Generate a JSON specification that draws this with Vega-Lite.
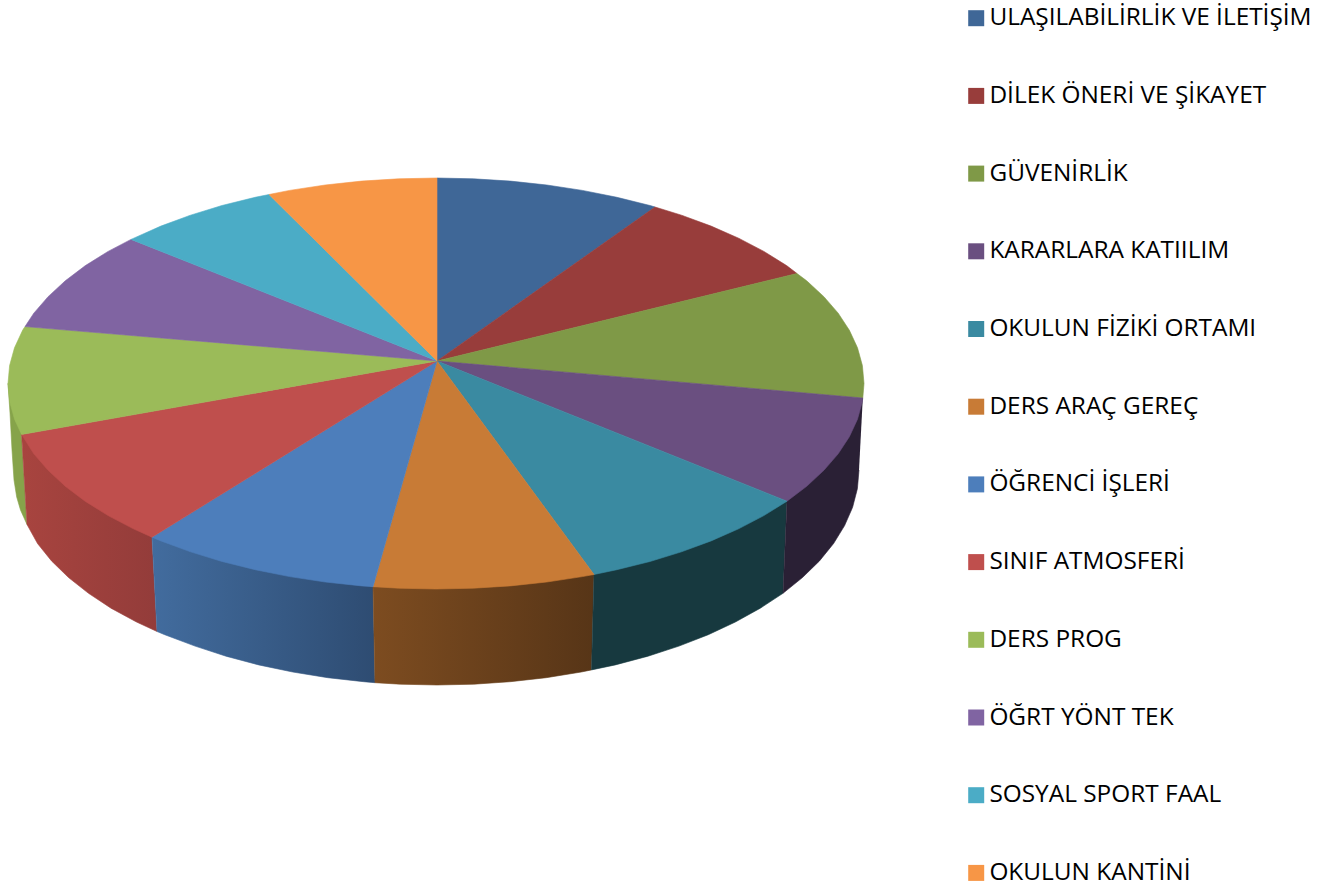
{"$schema":"https://vega.github.io/schema/vega-lite/v6.json","width":1324,"height":890,"padding":0,"autosize":{"type":"none"},"background":"white","config":{"view":{"stroke":null}},
"data":{"values":[
{"slice":"DERS PROG","part":"side","i":1,"x":21.6,"y":434.5},{"slice":"DERS PROG","part":"side","i":2,"x":8,"y":383.5},{"slice":"DERS PROG","part":"side","i":3,"x":10,"y":413},{"slice":"DERS PROG","part":"side","i":4,"x":12,"y":450},{"slice":"DERS PROG","part":"side","i":5,"x":14,"y":480},{"slice":"DERS PROG","part":"side","i":6,"x":16.7,"y":497},{"slice":"DERS PROG","part":"side","i":7,"x":20.5,"y":510},{"slice":"DERS PROG","part":"side","i":8,"x":27,"y":524.5},
{"slice":"SINIF ATMOSFERİ","part":"side","i":1,"x":152,"y":537.2},{"slice":"SINIF ATMOSFERİ","part":"side","i":2,"x":21.6,"y":434.5},{"slice":"SINIF ATMOSFERİ","part":"side","i":3,"x":27,"y":524.5},{"slice":"SINIF ATMOSFERİ","part":"side","i":4,"x":37.5,"y":543.5},{"slice":"SINIF ATMOSFERİ","part":"side","i":5,"x":51.5,"y":560.9},{"slice":"SINIF ATMOSFERİ","part":"side","i":6,"x":68.5,"y":577.5},{"slice":"SINIF ATMOSFERİ","part":"side","i":7,"x":88.5,"y":593.3},{"slice":"SINIF ATMOSFERİ","part":"side","i":8,"x":111,"y":608.2},{"slice":"SINIF ATMOSFERİ","part":"side","i":9,"x":136.5,"y":622},{"slice":"SINIF ATMOSFERİ","part":"side","i":10,"x":157,"y":631.5},
{"slice":"ÖĞRENCİ İŞLERİ","part":"side","i":1,"x":373,"y":586.7},{"slice":"ÖĞRENCİ İŞLERİ","part":"side","i":2,"x":152,"y":537.2},{"slice":"ÖĞRENCİ İŞLERİ","part":"side","i":3,"x":157,"y":631.5},{"slice":"ÖĞRENCİ İŞLERİ","part":"side","i":4,"x":164.7,"y":634.7},{"slice":"ÖĞRENCİ İŞLERİ","part":"side","i":5,"x":195,"y":646.1},{"slice":"ÖĞRENCİ İŞLERİ","part":"side","i":6,"x":226,"y":656.2},{"slice":"ÖĞRENCİ İŞLERİ","part":"side","i":7,"x":258.7,"y":664.9},{"slice":"ÖĞRENCİ İŞLERİ","part":"side","i":8,"x":292.7,"y":672},{"slice":"ÖĞRENCİ İŞLERİ","part":"side","i":9,"x":327.8,"y":677.7},{"slice":"ÖĞRENCİ İŞLERİ","part":"side","i":10,"x":363.7,"y":681.7},{"slice":"ÖĞRENCİ İŞLERİ","part":"side","i":11,"x":375,"y":682.7},
{"slice":"DERS ARAÇ GEREÇ","part":"side","i":1,"x":594,"y":574.5},{"slice":"DERS ARAÇ GEREÇ","part":"side","i":2,"x":373,"y":586.7},{"slice":"DERS ARAÇ GEREÇ","part":"side","i":3,"x":375,"y":682.7},{"slice":"DERS ARAÇ GEREÇ","part":"side","i":4,"x":400.2,"y":684.2},{"slice":"DERS ARAÇ GEREÇ","part":"side","i":5,"x":437,"y":685},{"slice":"DERS ARAÇ GEREÇ","part":"side","i":6,"x":473.8,"y":684.2},{"slice":"DERS ARAÇ GEREÇ","part":"side","i":7,"x":510.3,"y":681.7},{"slice":"DERS ARAÇ GEREÇ","part":"side","i":8,"x":546.2,"y":677.7},{"slice":"DERS ARAÇ GEREÇ","part":"side","i":9,"x":581.3,"y":672},{"slice":"DERS ARAÇ GEREÇ","part":"side","i":10,"x":591.5,"y":669.9},
{"slice":"OKULUN FİZİKİ ORTAMI","part":"side","i":1,"x":787,"y":501.2},{"slice":"OKULUN FİZİKİ ORTAMI","part":"side","i":2,"x":594,"y":574.5},{"slice":"OKULUN FİZİKİ ORTAMI","part":"side","i":3,"x":591.5,"y":669.9},{"slice":"OKULUN FİZİKİ ORTAMI","part":"side","i":4,"x":615.3,"y":664.9},{"slice":"OKULUN FİZİKİ ORTAMI","part":"side","i":5,"x":648,"y":656.2},{"slice":"OKULUN FİZİKİ ORTAMI","part":"side","i":6,"x":679,"y":646.1},{"slice":"OKULUN FİZİKİ ORTAMI","part":"side","i":7,"x":708.3,"y":634.7},{"slice":"OKULUN FİZİKİ ORTAMI","part":"side","i":8,"x":735.4,"y":622},{"slice":"OKULUN FİZİKİ ORTAMI","part":"side","i":9,"x":760.3,"y":608.2},{"slice":"OKULUN FİZİKİ ORTAMI","part":"side","i":10,"x":783,"y":593.3},
{"slice":"KARARLARA KATIILIM","part":"side","i":1,"x":862.8,"y":398},{"slice":"KARARLARA KATIILIM","part":"side","i":2,"x":787,"y":501.2},{"slice":"KARARLARA KATIILIM","part":"side","i":3,"x":783,"y":593.3},{"slice":"KARARLARA KATIILIM","part":"side","i":4,"x":802.5,"y":577.5},{"slice":"KARARLARA KATIILIM","part":"side","i":5,"x":819.5,"y":560.9},{"slice":"KARARLARA KATIILIM","part":"side","i":6,"x":833.6,"y":543.5},{"slice":"KARARLARA KATIILIM","part":"side","i":7,"x":844.6,"y":525.6},{"slice":"KARARLARA KATIILIM","part":"side","i":8,"x":852.6,"y":507.3},{"slice":"KARARLARA KATIILIM","part":"side","i":9,"x":857.4,"y":488.7},{"slice":"KARARLARA KATIILIM","part":"side","i":10,"x":859,"y":470},
{"slice":"ULAŞILABİLİRLİK VE İLETİŞİM","part":"top","i":1,"x":437,"y":361},{"slice":"ULAŞILABİLİRLİK VE İLETİŞİM","part":"top","i":2,"x":437,"y":178},{"slice":"ULAŞILABİLİRLİK VE İLETİŞİM","part":"top","i":3,"x":473.3,"y":178.8},{"slice":"ULAŞILABİLİRLİK VE İLETİŞİM","part":"top","i":4,"x":510.3,"y":181.1},{"slice":"ULAŞILABİLİRLİK VE İLETİŞİM","part":"top","i":5,"x":546.8,"y":185},{"slice":"ULAŞILABİLİRLİK VE İLETİŞİM","part":"top","i":6,"x":582.4,"y":190.4},{"slice":"ULAŞILABİLİRLİK VE İLETİŞİM","part":"top","i":7,"x":616.9,"y":197.3},{"slice":"ULAŞILABİLİRLİK VE İLETİŞİM","part":"top","i":8,"x":650,"y":205.5},{"slice":"ULAŞILABİLİRLİK VE İLETİŞİM","part":"top","i":9,"x":655,"y":207},{"slice":"ULAŞILABİLİRLİK VE İLETİŞİM","part":"top","i":10,"x":437,"y":361},
{"slice":"DİLEK ÖNERİ VE ŞİKAYET","part":"top","i":1,"x":437,"y":361},{"slice":"DİLEK ÖNERİ VE ŞİKAYET","part":"top","i":2,"x":655,"y":207},{"slice":"DİLEK ÖNERİ VE ŞİKAYET","part":"top","i":3,"x":681.5,"y":215.2},{"slice":"DİLEK ÖNERİ VE ŞİKAYET","part":"top","i":4,"x":711.1,"y":226.1},{"slice":"DİLEK ÖNERİ VE ŞİKAYET","part":"top","i":5,"x":738.6,"y":238.2},{"slice":"DİLEK ÖNERİ VE ŞİKAYET","part":"top","i":6,"x":763.9,"y":251.4},{"slice":"DİLEK ÖNERİ VE ŞİKAYET","part":"top","i":7,"x":786.6,"y":265.6},{"slice":"DİLEK ÖNERİ VE ŞİKAYET","part":"top","i":8,"x":797,"y":273.5},{"slice":"DİLEK ÖNERİ VE ŞİKAYET","part":"top","i":9,"x":437,"y":361},
{"slice":"GÜVENİRLİK","part":"top","i":1,"x":437,"y":361},{"slice":"GÜVENİRLİK","part":"top","i":2,"x":797,"y":273.5},{"slice":"GÜVENİRLİK","part":"top","i":3,"x":806.7,"y":280.8},{"slice":"GÜVENİRLİK","part":"top","i":4,"x":823.9,"y":296.7},{"slice":"GÜVENİRLİK","part":"top","i":5,"x":838.2,"y":313.2},{"slice":"GÜVENİRLİK","part":"top","i":6,"x":849.4,"y":330.3},{"slice":"GÜVENİRLİK","part":"top","i":7,"x":857.5,"y":347.8},{"slice":"GÜVENİRLİK","part":"top","i":8,"x":862.4,"y":365.6},{"slice":"GÜVENİRLİK","part":"top","i":9,"x":864,"y":383.5},{"slice":"GÜVENİRLİK","part":"top","i":10,"x":862.8,"y":398},{"slice":"GÜVENİRLİK","part":"top","i":11,"x":437,"y":361},
{"slice":"KARARLARA KATIILIM","part":"top","i":1,"x":437,"y":361},{"slice":"KARARLARA KATIILIM","part":"top","i":2,"x":862.8,"y":398},{"slice":"KARARLARA KATIILIM","part":"top","i":3,"x":862.4,"y":401.4},{"slice":"KARARLARA KATIILIM","part":"top","i":4,"x":857.5,"y":419.2},{"slice":"KARARLARA KATIILIM","part":"top","i":5,"x":849.4,"y":436.7},{"slice":"KARARLARA KATIILIM","part":"top","i":6,"x":838.2,"y":453.8},{"slice":"KARARLARA KATIILIM","part":"top","i":7,"x":823.9,"y":470.3},{"slice":"KARARLARA KATIILIM","part":"top","i":8,"x":806.7,"y":486.3},{"slice":"KARARLARA KATIILIM","part":"top","i":9,"x":787,"y":501.2},{"slice":"KARARLARA KATIILIM","part":"top","i":10,"x":437,"y":361},
{"slice":"OKULUN FİZİKİ ORTAMI","part":"top","i":1,"x":437,"y":361},{"slice":"OKULUN FİZİKİ ORTAMI","part":"top","i":2,"x":787,"y":501.2},{"slice":"OKULUN FİZİKİ ORTAMI","part":"top","i":3,"x":763.9,"y":515.6},{"slice":"OKULUN FİZİKİ ORTAMI","part":"top","i":4,"x":738.6,"y":528.8},{"slice":"OKULUN FİZİKİ ORTAMI","part":"top","i":5,"x":711.1,"y":540.9},{"slice":"OKULUN FİZİKİ ORTAMI","part":"top","i":6,"x":681.5,"y":551.8},{"slice":"OKULUN FİZİKİ ORTAMI","part":"top","i":7,"x":650,"y":561.5},{"slice":"OKULUN FİZİKİ ORTAMI","part":"top","i":8,"x":616.9,"y":569.7},{"slice":"OKULUN FİZİKİ ORTAMI","part":"top","i":9,"x":594,"y":574.5},{"slice":"OKULUN FİZİKİ ORTAMI","part":"top","i":10,"x":437,"y":361},
{"slice":"DERS ARAÇ GEREÇ","part":"top","i":1,"x":437,"y":361},{"slice":"DERS ARAÇ GEREÇ","part":"top","i":2,"x":594,"y":574.5},{"slice":"DERS ARAÇ GEREÇ","part":"top","i":3,"x":582.4,"y":576.6},{"slice":"DERS ARAÇ GEREÇ","part":"top","i":4,"x":546.8,"y":582},{"slice":"DERS ARAÇ GEREÇ","part":"top","i":5,"x":510.3,"y":585.9},{"slice":"DERS ARAÇ GEREÇ","part":"top","i":6,"x":473.3,"y":588.2},{"slice":"DERS ARAÇ GEREÇ","part":"top","i":7,"x":436,"y":589},{"slice":"DERS ARAÇ GEREÇ","part":"top","i":8,"x":398.7,"y":588.2},{"slice":"DERS ARAÇ GEREÇ","part":"top","i":9,"x":373,"y":586.7},{"slice":"DERS ARAÇ GEREÇ","part":"top","i":10,"x":437,"y":361},
{"slice":"ÖĞRENCİ İŞLERİ","part":"top","i":1,"x":437,"y":361},{"slice":"ÖĞRENCİ İŞLERİ","part":"top","i":2,"x":373,"y":586.7},{"slice":"ÖĞRENCİ İŞLERİ","part":"top","i":3,"x":361.7,"y":585.9},{"slice":"ÖĞRENCİ İŞLERİ","part":"top","i":4,"x":325.2,"y":582},{"slice":"ÖĞRENCİ İŞLERİ","part":"top","i":5,"x":289.6,"y":576.6},{"slice":"ÖĞRENCİ İŞLERİ","part":"top","i":6,"x":255.1,"y":569.7},{"slice":"ÖĞRENCİ İŞLERİ","part":"top","i":7,"x":222,"y":561.5},{"slice":"ÖĞRENCİ İŞLERİ","part":"top","i":8,"x":190.5,"y":551.8},{"slice":"ÖĞRENCİ İŞLERİ","part":"top","i":9,"x":160.9,"y":540.9},{"slice":"ÖĞRENCİ İŞLERİ","part":"top","i":10,"x":152,"y":537.2},{"slice":"ÖĞRENCİ İŞLERİ","part":"top","i":11,"x":437,"y":361},
{"slice":"SINIF ATMOSFERİ","part":"top","i":1,"x":437,"y":361},{"slice":"SINIF ATMOSFERİ","part":"top","i":2,"x":152,"y":537.2},{"slice":"SINIF ATMOSFERİ","part":"top","i":3,"x":133.4,"y":528.8},{"slice":"SINIF ATMOSFERİ","part":"top","i":4,"x":108.1,"y":515.6},{"slice":"SINIF ATMOSFERİ","part":"top","i":5,"x":85.4,"y":501.4},{"slice":"SINIF ATMOSFERİ","part":"top","i":6,"x":65.3,"y":486.3},{"slice":"SINIF ATMOSFERİ","part":"top","i":7,"x":48.1,"y":470.3},{"slice":"SINIF ATMOSFERİ","part":"top","i":8,"x":33.8,"y":453.8},{"slice":"SINIF ATMOSFERİ","part":"top","i":9,"x":21.6,"y":434.5},{"slice":"SINIF ATMOSFERİ","part":"top","i":10,"x":437,"y":361},
{"slice":"DERS PROG","part":"top","i":1,"x":437,"y":361},{"slice":"DERS PROG","part":"top","i":2,"x":21.6,"y":434.5},{"slice":"DERS PROG","part":"top","i":3,"x":14.5,"y":419.2},{"slice":"DERS PROG","part":"top","i":4,"x":9.6,"y":401.4},{"slice":"DERS PROG","part":"top","i":5,"x":8,"y":383.5},{"slice":"DERS PROG","part":"top","i":6,"x":9.6,"y":365.6},{"slice":"DERS PROG","part":"top","i":7,"x":14.5,"y":347.8},{"slice":"DERS PROG","part":"top","i":8,"x":22.6,"y":330.3},{"slice":"DERS PROG","part":"top","i":9,"x":25,"y":326.6},{"slice":"DERS PROG","part":"top","i":10,"x":437,"y":361},
{"slice":"ÖĞRT YÖNT TEK","part":"top","i":1,"x":437,"y":361},{"slice":"ÖĞRT YÖNT TEK","part":"top","i":2,"x":25,"y":326.6},{"slice":"ÖĞRT YÖNT TEK","part":"top","i":3,"x":33.8,"y":313.2},{"slice":"ÖĞRT YÖNT TEK","part":"top","i":4,"x":48.1,"y":296.7},{"slice":"ÖĞRT YÖNT TEK","part":"top","i":5,"x":65.3,"y":280.8},{"slice":"ÖĞRT YÖNT TEK","part":"top","i":6,"x":85.4,"y":265.6},{"slice":"ÖĞRT YÖNT TEK","part":"top","i":7,"x":108.1,"y":251.4},{"slice":"ÖĞRT YÖNT TEK","part":"top","i":8,"x":131,"y":239.4},{"slice":"ÖĞRT YÖNT TEK","part":"top","i":9,"x":437,"y":361},
{"slice":"SOSYAL SPORT FAAL","part":"top","i":1,"x":437,"y":361},{"slice":"SOSYAL SPORT FAAL","part":"top","i":2,"x":131,"y":239.4},{"slice":"SOSYAL SPORT FAAL","part":"top","i":3,"x":160.9,"y":226.1},{"slice":"SOSYAL SPORT FAAL","part":"top","i":4,"x":190.5,"y":215.2},{"slice":"SOSYAL SPORT FAAL","part":"top","i":5,"x":222,"y":205.5},{"slice":"SOSYAL SPORT FAAL","part":"top","i":6,"x":255.1,"y":197.3},{"slice":"SOSYAL SPORT FAAL","part":"top","i":7,"x":269,"y":194.5},{"slice":"SOSYAL SPORT FAAL","part":"top","i":8,"x":437,"y":361},
{"slice":"OKULUN KANTİNİ","part":"top","i":1,"x":437,"y":361},{"slice":"OKULUN KANTİNİ","part":"top","i":2,"x":269,"y":194.5},{"slice":"OKULUN KANTİNİ","part":"top","i":3,"x":289.6,"y":190.4},{"slice":"OKULUN KANTİNİ","part":"top","i":4,"x":325.2,"y":185},{"slice":"OKULUN KANTİNİ","part":"top","i":5,"x":361.7,"y":181.1},{"slice":"OKULUN KANTİNİ","part":"top","i":6,"x":398.7,"y":178.8},{"slice":"OKULUN KANTİNİ","part":"top","i":7,"x":437,"y":178},{"slice":"OKULUN KANTİNİ","part":"top","i":8,"x":437,"y":361}
]},
"encoding":{
"x":{"field":"x","type":"quantitative","scale":{"domain":[0,1324],"nice":false,"zero":false},"axis":null},
"y":{"field":"y","type":"quantitative","scale":{"domain":[890,0],"nice":false,"zero":false},"axis":null},
"order":{"field":"i","type":"quantitative"}},
"layer":[
{"transform":[{"filter":{"and":[{"field":"part","equal":"side"},{"field":"slice","equal":"DERS PROG"}]}}],"mark":{"type":"line","filled":true,"color":"#86a34a","stroke":"#86a34a","strokeWidth":0.6}},
{"transform":[{"filter":{"and":[{"field":"part","equal":"side"},{"field":"slice","equal":"SINIF ATMOSFERİ"}]}}],"mark":{"type":"line","filled":true,"strokeWidth":0.6,"color":{"gradient":"linear","x1":0,"y1":0,"x2":1,"y2":0,"stops":[{"offset":0,"color":"#a8443f"},{"offset":1,"color":"#933c3a"}]},"stroke":{"gradient":"linear","x1":0,"y1":0,"x2":1,"y2":0,"stops":[{"offset":0,"color":"#a8443f"},{"offset":1,"color":"#933c3a"}]}}},
{"transform":[{"filter":{"and":[{"field":"part","equal":"side"},{"field":"slice","equal":"ÖĞRENCİ İŞLERİ"}]}}],"mark":{"type":"line","filled":true,"strokeWidth":0.6,"color":{"gradient":"linear","x1":0,"y1":0,"x2":1,"y2":0,"stops":[{"offset":0,"color":"#426c9e"},{"offset":1,"color":"#2e4c72"}]},"stroke":{"gradient":"linear","x1":0,"y1":0,"x2":1,"y2":0,"stops":[{"offset":0,"color":"#426c9e"},{"offset":1,"color":"#2e4c72"}]}}},
{"transform":[{"filter":{"and":[{"field":"part","equal":"side"},{"field":"slice","equal":"DERS ARAÇ GEREÇ"}]}}],"mark":{"type":"line","filled":true,"strokeWidth":0.6,"color":{"gradient":"linear","x1":0,"y1":0,"x2":1,"y2":0,"stops":[{"offset":0,"color":"#7d4c20"},{"offset":1,"color":"#573517"}]},"stroke":{"gradient":"linear","x1":0,"y1":0,"x2":1,"y2":0,"stops":[{"offset":0,"color":"#7d4c20"},{"offset":1,"color":"#573517"}]}}},
{"transform":[{"filter":{"and":[{"field":"part","equal":"side"},{"field":"slice","equal":"OKULUN FİZİKİ ORTAMI"}]}}],"mark":{"type":"line","filled":true,"color":"#17393f","stroke":"#17393f","strokeWidth":0.6}},
{"transform":[{"filter":{"and":[{"field":"part","equal":"side"},{"field":"slice","equal":"KARARLARA KATIILIM"}]}}],"mark":{"type":"line","filled":true,"color":"#2a2035","stroke":"#2a2035","strokeWidth":0.6}},
{"transform":[{"filter":{"field":"part","equal":"top"}}],"mark":{"type":"line","filled":true,"strokeWidth":0.6},
"encoding":{"stroke":{"field":"slice","type":"nominal","scale":{"domain":["ULAŞILABİLİRLİK VE İLETİŞİM","DİLEK ÖNERİ VE ŞİKAYET","GÜVENİRLİK","KARARLARA KATIILIM","OKULUN FİZİKİ ORTAMI","DERS ARAÇ GEREÇ","ÖĞRENCİ İŞLERİ","SINIF ATMOSFERİ","DERS PROG","ÖĞRT YÖNT TEK","SOSYAL SPORT FAAL","OKULUN KANTİNİ"],"range":["#3f6797","#983d3b","#7f9947","#6a4f80","#3a8aa1","#c87b36","#4d7ebb","#bf4f4d","#9bbb59","#8064a2","#4bacc6","#f79646"]},"legend":null},
"color":{"field":"slice","type":"nominal","scale":{"domain":["ULAŞILABİLİRLİK VE İLETİŞİM","DİLEK ÖNERİ VE ŞİKAYET","GÜVENİRLİK","KARARLARA KATIILIM","OKULUN FİZİKİ ORTAMI","DERS ARAÇ GEREÇ","ÖĞRENCİ İŞLERİ","SINIF ATMOSFERİ","DERS PROG","ÖĞRT YÖNT TEK","SOSYAL SPORT FAAL","OKULUN KANTİNİ"],"range":["#3f6797","#983d3b","#7f9947","#6a4f80","#3a8aa1","#c87b36","#4d7ebb","#bf4f4d","#9bbb59","#8064a2","#4bacc6","#f79646"]},
"legend":{"orient":"none","legendX":964,"legendY":6,"title":null,"padding":0,"symbolType":"square","symbolSize":256,"symbolStrokeWidth":0,"labelFont":"Open Sans","labelFontSize":24.4,"labelColor":"#000000","labelLimit":400,"labelOffset":1,"rowPadding":52.7}}}}
]}
